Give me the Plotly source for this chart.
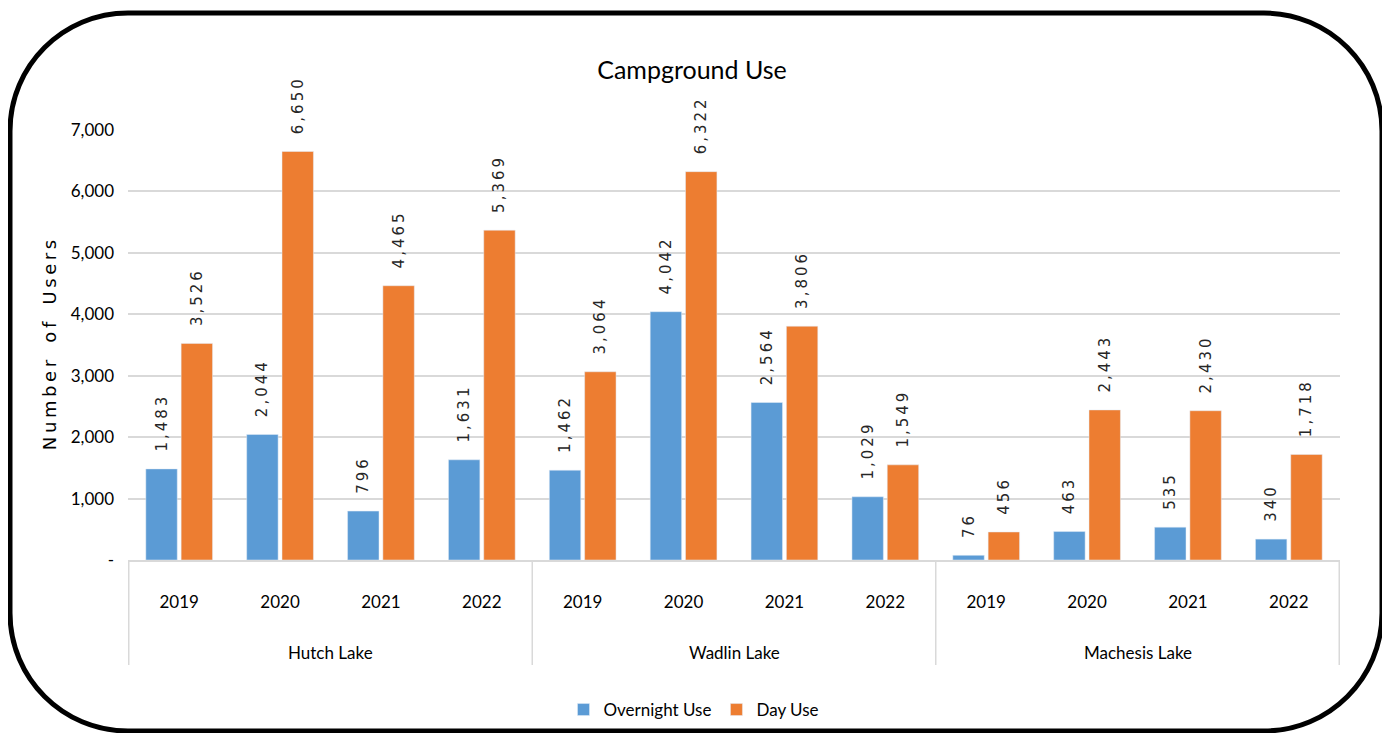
import plotly.graph_objects as go

lakes = ["Hutch Lake", "Wadlin Lake", "Machesis Lake"]
years = ["2019", "2020", "2021", "2022"]
overnight = [1483, 2044, 796, 1631, 1462, 4042, 2564, 1029, 76, 463, 535, 340]
day_use = [3526, 6650, 4465, 5369, 3064, 6322, 3806, 1549, 456, 2443, 2430, 1718]
y_ticks = [0, 1000, 2000, 3000, 4000, 5000, 6000, 7000]
y_ticktext = ["-", "1,000", "2,000", "3,000", "4,000", "5,000", "6,000", "7,000"]

cats = [f"{l} {y}" for l in lakes for y in years]
cat_year = [y for _ in lakes for y in years]

OFF = 8  # page body margin
W, H = 1390 - OFF, 733 - OFF
def fx(px): return px - OFF
def fy(py): return py - OFF
L = fx(128)
T = fy(130)
R = W - fx(1340)
B = H - fy(560)
pw, ph = W - L - R, H - T - B

CAL = "Lato, Roboto, sans-serif"
LBL = "DejaVu Sans, Verdana, sans-serif"
TS = "\u2009"
NB = "\u00a0"

def spaced(s):
    return TS.join(list(s))

fig = go.Figure()
for name, vals, col in [("Overnight Use", overnight, "#5B9BD5"), ("Day Use", day_use, "#ED7D31")]:
    fig.add_trace(go.Bar(
        name=name, x=cats, y=vals, marker_color=col,
        text=[NB * 3 + spaced(f"{v:,}") for v in vals], textposition="outside", textangle=-90,
        constraintext="none",
        textfont=dict(family=LBL, size=15, color="#262626"), cliponaxis=False,
    ))

def px2paper(px, py):
    return (fx(px) - L) / pw, (H - B - fy(py)) / ph

def rounded_path(x0, y0, x1, y1, r):
    k = 0.5523 * r
    def P(x, y):
        a, b = px2paper(x, y)
        return f"{a:.5f},{b:.5f}"
    d = f"M {P(x0 + r, y0)} L {P(x1 - r, y0)} "
    d += f"C {P(x1 - r + k, y0)} {P(x1, y0 + r - k)} {P(x1, y0 + r)} "
    d += f"L {P(x1, y1 - r)} "
    d += f"C {P(x1, y1 - r + k)} {P(x1 - r + k, y1)} {P(x1 - r, y1)} "
    d += f"L {P(x0 + r, y1)} "
    d += f"C {P(x0 + r - k, y1)} {P(x0, y1 - r + k)} {P(x0, y1 - r)} "
    d += f"L {P(x0, y0 + r)} "
    d += f"C {P(x0, y0 + r - k)} {P(x0 + r - k, y0)} {P(x0 + r, y0)} Z"
    return d

fig.add_shape(type="path", xref="paper", yref="paper",
              path=rounded_path(10, 13, 1382, 731, 118),
              line=dict(color="black", width=5), layer="above")

# lake group dividers and labels, positioned from category indices
n_y = len(years)
div_bottom = -(665 - 560) / ph
for i in range(len(lakes) + 1):
    xpos = i * n_y - 0.5
    fig.add_shape(type="line", xref="x", yref="paper", x0=xpos, x1=xpos, y0=0, y1=div_bottom,
                  line=dict(color="#d9d9d9", width=1.5))
for i, lake in enumerate(lakes):
    fig.add_annotation(x=i * n_y + (n_y - 1) / 2, xref="x", y=-(652 - 560) / ph, yref="paper",
                       text=lake, showarrow=False, yanchor="middle",
                       font=dict(family=CAL, size=17, color="black"))

fig.update_layout(
    width=W, height=H,
    margin=dict(l=L, r=R, t=T, b=B, autoexpand=False),
    paper_bgcolor="white", plot_bgcolor="white",
    barmode="group", bargap=0.3, bargroupgap=0.11,
    title=dict(text="Campground Use", x=fx(692) / W, xanchor="center", y=1 - fy(70) / H, yanchor="middle",
               font=dict(family=CAL, size=25, color="black")),
    legend=dict(orientation="h", x=(fx(694) - L) / pw, xanchor="center", y=-(710 - 560) / ph,
                yanchor="middle", font=dict(family=CAL, size=17, color="black"),
                traceorder="normal", itemwidth=30),
    showlegend=True,
)
fig.update_yaxes(range=[0, 7000], tickvals=y_ticks, ticktext=y_ticktext, automargin=False,
                 showgrid=True, gridcolor="#d9d9d9", gridwidth=1.5, zeroline=False,
                 tickfont=dict(family=CAL, size=17, color="black"), ticks="", ticklabelstandoff=13,
                 title=dict(text=(NB * 3).join(spaced(w) for w in "Number of Users".split(" ")),
                            font=dict(family=LBL, size=18, color="black"), standoff=9))
fig.update_xaxes(type="category", categoryarray=cats, tickvals=cats, ticktext=cat_year, automargin=False,
                 showline=True, linecolor="#d9d9d9", linewidth=1.5, showgrid=False,
                 tickfont=dict(family=CAL, size=17, color="black"), ticks="", ticklabelstandoff=26)

fig.write_html("out.html")
